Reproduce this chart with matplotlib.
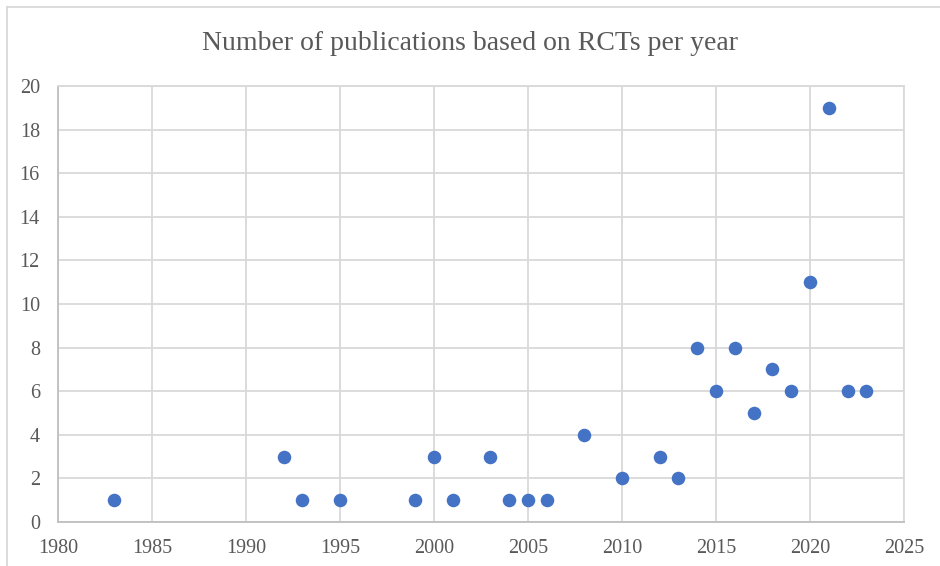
import matplotlib
matplotlib.use("Agg")
import matplotlib.pyplot as plt
from matplotlib.lines import Line2D

# data
years = [1983, 1992, 1993, 1995, 1999, 2000, 2001, 2003, 2004, 2005, 2006,
         2008, 2010, 2012, 2013, 2014, 2015, 2016, 2017, 2018, 2019, 2020,
         2021, 2022, 2023]
counts = [1, 3, 1, 1, 1, 3, 1, 3, 1, 1, 1,
          4, 2, 3, 2, 8, 6, 8, 5, 7, 6, 11,
          19, 6, 6]
x_ticks = [1980, 1985, 1990, 1995, 2000, 2005, 2010, 2015, 2020, 2025]
y_ticks = [0, 2, 4, 6, 8, 10, 12, 14, 16, 18, 20]
title = "Number of publications based on RCTs per year"

plt.rcParams['font.family'] = ['Liberation Serif', 'DejaVu Serif']

fig = plt.figure(figsize=(9.4, 5.66), dpi=100)
ax = fig.add_axes([58 / 940, 1 - 522 / 566, 846 / 940, 436 / 566])

ax.scatter(years, counts, s=95, color='#4472C4', zorder=3, linewidths=0)

ax.set_xlim(1980, 2025)
ax.set_ylim(0, 20)
ax.set_xticks(x_ticks)
ax.set_yticks(y_ticks)
ax.grid(True, color='#d9d9d9', linewidth=1.3)
ax.set_axisbelow(True)
for side in ['top', 'right']:
    ax.spines[side].set_color('#d9d9d9')
    ax.spines[side].set_linewidth(1.3)
for side in ['left', 'bottom']:
    ax.spines[side].set_color('#bfbfbf')
    ax.spines[side].set_linewidth(1.3)
ax.tick_params(length=0, labelsize=14.5, labelcolor='#595959', pad=12)
ax.tick_params(axis='y', pad=13)

fig.text(0.5, 1 - 44 / 566, title, ha='center', va='center',
         fontsize=20, color='#595959')

# outer chart border (only top and left visible in the crop)
fig.add_artist(Line2D([7 / 940, 7 / 940], [0, 1 - 7 / 566], color='#d9d9d9',
                      linewidth=1.3, transform=fig.transFigure))
fig.add_artist(Line2D([7 / 940, 1], [1 - 7 / 566, 1 - 7 / 566], color='#d9d9d9',
                      linewidth=1.3, transform=fig.transFigure))

fig.savefig('out.png', dpi=100)
